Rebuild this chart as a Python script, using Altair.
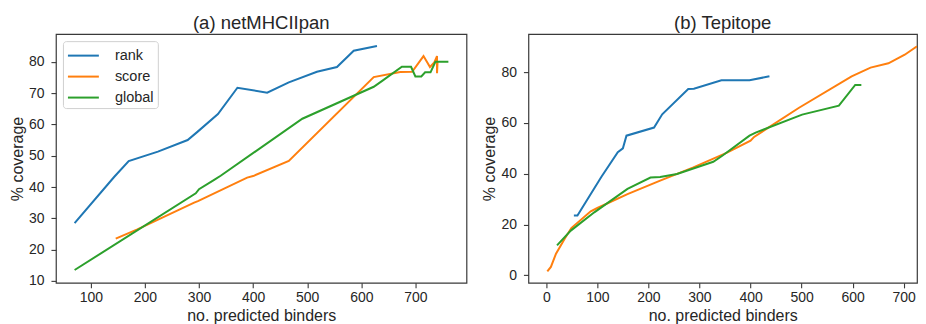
import altair as alt
import pandas as pd

# ---- Panel (a) netMHCIIpan ----
A_rank_x = [70, 143, 170, 224, 279, 297, 335, 371, 426, 466, 518, 555, 586, 629]
A_rank_y = [28.5, 43.2, 48.3, 51.3, 55.0, 57.6, 63.3, 71.7, 70.1, 73.4, 76.8, 78.3, 83.5, 85.0]

A_score_x = [146, 186, 291, 298, 389, 400, 466, 623, 672, 694, 715, 727, 735, 740, 740, 741]
A_score_y = [23.5, 26.5, 35.0, 35.5, 43.0, 43.5, 48.3, 75.1, 76.7, 76.8, 81.8, 78.3, 79.8, 81.8, 76.3, 80.0]

A_global_x = [70, 294, 300, 328, 340, 491, 623, 638, 675, 692, 700, 711, 718, 728, 737, 761]
A_global_y = [13.5, 38.0, 39.3, 42.3, 43.6, 61.8, 72.0, 73.8, 78.4, 78.4, 75.3, 75.3, 76.6, 76.6, 80.0, 80.0]

# ---- Panel (b) Tepitope ----
B_rank_x = [54, 61, 108, 140, 150, 157, 211, 227, 278, 289, 343, 398, 437]
B_rank_y = [23.5, 23.5, 38.8, 48.5, 50.0, 55.0, 58.2, 63.4, 73.4, 73.5, 76.8, 76.8, 78.4]

B_score_x = [2, 9, 19, 36, 49, 87, 100, 159, 223, 288, 353, 400, 407, 495, 598, 635, 670, 702, 726]
B_score_y = [1.5, 3.3, 8.5, 14.4, 18.6, 25.2, 26.5, 32.0, 37.3, 42.5, 48.2, 53.0, 54.5, 66.0, 78.4, 81.8, 83.5, 86.9, 90.2]

B_global_x = [21, 48, 94, 159, 204, 223, 256, 327, 346, 398, 410, 501, 573, 605, 617]
B_global_y = [11.8, 17.6, 24.8, 34.0, 38.5, 38.7, 39.9, 44.7, 47.3, 55.0, 56.2, 63.3, 66.8, 75.0, 75.0]

SERIES = ["rank", "score", "global"]
COLORS = ["#1f77b4", "#ff7f0e", "#2ca02c"]
A_xticks = [100, 200, 300, 400, 500, 600, 700]
A_yticks = [10, 20, 30, 40, 50, 60, 70, 80]
B_xticks = [0, 100, 200, 300, 400, 500, 600, 700]
B_yticks = [0, 20, 40, 60, 80]

FONT = "Liberation Sans"
TXT = "#262626"
FRAME = "#3a3a3a"


def frame(series_data):
    rows = []
    for name, xs, ys in series_data:
        for i, (x, y) in enumerate(zip(xs, ys)):
            rows.append({"series": name, "i": i, "x": x, "y": y})
    return pd.DataFrame(rows)


dfA = frame([("rank", A_rank_x, A_rank_y), ("score", A_score_x, A_score_y), ("global", A_global_x, A_global_y)])
dfB = frame([("rank", B_rank_x, B_rank_y), ("score", B_score_x, B_score_y), ("global", B_global_x, B_global_y)])


def panel(df, title, xdom, ydom, xt, yt, width):
    return alt.Chart(df).mark_line(strokeWidth=2, clip=True).encode(
        x=alt.X("x:Q", scale=alt.Scale(domain=xdom, nice=False, zero=False),
                axis=alt.Axis(values=xt, title="no. predicted binders", labelPadding=3)),
        y=alt.Y("y:Q", scale=alt.Scale(domain=ydom, nice=False, zero=False),
                axis=alt.Axis(values=yt, title="% coverage", labelPadding=7)),
        color=alt.Color("series:N", scale=alt.Scale(domain=SERIES, range=COLORS),
                        legend=alt.Legend(title=None, orient="top-left",
                                          symbolType="M-1,0L2.26,0", symbolSize=361,
                                          symbolStrokeWidth=2, symbolFillColor="transparent")),
        order="i:Q",
        detail="series:N",
    ).properties(
        width=width, height=249,
        title=alt.TitleParams(title, fontSize=18.5, fontWeight="normal", font=FONT,
                              color=TXT, offset=2, anchor="middle"),
    )


a = panel(dfA, "(a) netMHCIIpan", [35.5, 794.5], [9.4, 88.8], A_xticks, A_yticks, 411)
b = panel(dfB, "(b) Tepitope", [-35, 726], [-3, 95], B_xticks, B_yticks, 389)

chart = alt.hconcat(a, b, spacing=13).resolve_scale(x="independent", y="independent").properties(
    padding={"left": 0, "top": 4, "right": 0, "bottom": 0}
).configure_view(
    stroke=FRAME, strokeWidth=1.2
).configure_axis(
    domain=False, grid=False, tickColor=FRAME, tickSize=5, tickWidth=1.1,
    labelFont=FONT, labelFontSize=14, labelColor=TXT,
    titleFont=FONT, titleFontSize=16, titleFontWeight="normal", titleColor=TXT, titlePadding=3,
).configure_legend(
    labelFont=FONT, labelFontSize=14.5, labelColor=TXT, strokeColor="#d0d0d0",
    fillColor="white", cornerRadius=3, padding=4, rowPadding=4, labelOffset=27, offset=7,
)

chart.save("out.html", embed_options={"renderer": "svg", "actions": False})
